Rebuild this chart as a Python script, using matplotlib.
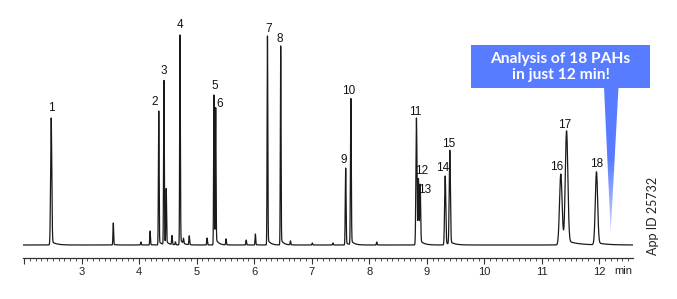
import numpy as np
import matplotlib
matplotlib.use("Agg")
import matplotlib.pyplot as plt
from matplotlib.patches import Polygon, Rectangle
from matplotlib.ticker import MultipleLocator, FixedLocator
from matplotlib.colors import LinearSegmentedColormap

# ---- data ----
peak_labels = [str(i) for i in range(1, 19)]
peak_times = [2.47, 4.34, 4.43, 4.71, 5.30, 5.33, 6.23, 6.46, 7.59, 7.68,
              8.82, 8.855, 8.885, 9.32, 9.40, 11.33, 11.43, 11.95]
peak_heights = [127, 134, 164, 210, 150, 135, 209, 199, 77, 146,
                127, 64, 58, 69, 94, 71, 113, 73]
peak_sigmas = [0.010, 0.006, 0.006, 0.006, 0.006, 0.006, 0.006, 0.006, 0.007, 0.007,
               0.009, 0.008, 0.008, 0.010, 0.010, 0.022, 0.022, 0.020]

minor_times = [3.55, 4.03, 4.19, 4.47, 4.57, 4.63, 4.77, 4.87, 5.18, 5.51,
               5.86, 6.02, 6.63, 7.01, 7.37, 8.13]
minor_heights = [22, 3, 14, 54, 9, 3, 5, 9, 7, 6, 5, 11, 4, 2, 2, 3]
minor_sigma = 0.006

tick_values = [2, 3, 4, 5, 6, 7, 8, 9, 10, 11, 12]
tick_labels = ["", "3", "4", "5", "6", "7", "8", "9", "10", "11", "12"]

callout_text = "Analysis of 18 PAHs\nin just 12 min!"
app_id = "App ID 25732"

# label offsets in pixels (dx, dy) relative to the peak apex
label_offsets = {
    "1": (0, 10), "2": (-4, 9), "3": (0, 10), "4": (0, 10), "5": (1, 9),
    "6": (4, 6), "7": (1, 7), "8": (-1, 7), "9": (-2, 8), "10": (-2, 8),
    "11": (-1, 6), "12": (3, 10), "13": (4, -3), "14": (-3, 8), "15": (-1, 7),
    "16": (-4, 7), "17": (-2, 7), "18": (0, 8),
}

# ---- build trace ----
t = np.linspace(1.98, 12.58, 30000)
y = np.zeros_like(t)


def add_peak(y, t0, h, s):
    y = y + h * np.exp(-0.5 * ((t - t0) / s) ** 2)
    # slight tailing
    tail = np.where(t > t0, np.exp(-(t - t0) / (8 * s)), 0.0)
    y = y + 0.03 * h * tail * (1 - np.exp(-((t - t0) / s) ** 2))
    return y


for t0, h, s in zip(peak_times, peak_heights, peak_sigmas):
    y = add_peak(y, t0, h, s)
for t0, h in zip(minor_times, minor_heights):
    y = add_peak(y, t0, h, minor_sigma)

# ---- figure ----
W, H = 677, 299
fig = plt.figure(figsize=(W / 100, H / 100), dpi=100)
left_px, right_px = 23, 632.7
bottom_px, top_px = 258, 20
ax = fig.add_axes([left_px / W, 1 - bottom_px / H,
                   (right_px - left_px) / W, (bottom_px - top_px) / H])
ax.plot(t, y, color="#1a1a1a", lw=0.9)
ax.set_xlim(1.98, 12.58)
ax.set_ylim(-13, 225)

for sp in ["left", "right", "top"]:
    ax.spines[sp].set_visible(False)
ax.spines["bottom"].set_color("#333333")
ax.spines["bottom"].set_linewidth(0.9)
ax.set_yticks([])
ax.xaxis.set_major_locator(FixedLocator(tick_values))
ax.set_xticklabels(tick_labels, fontsize=8, family="Liberation Sans", color="#222222")
ax.xaxis.set_minor_locator(MultipleLocator(0.1))
ax.tick_params(axis="x", which="major", direction="out", length=4, width=0.8,
               color="#333333", pad=2.5)
ax.tick_params(axis="x", which="minor", direction="out", length=2, width=0.6,
               color="#333333")
ax.annotate("min", xy=(12.42, 0), xycoords=("data", "axes fraction"),
            xytext=(0, -13), textcoords="offset pixels", ha="center", va="center",
            fontsize=8, family="Liberation Sans", color="#222222")

for lab, t0, h in zip(peak_labels, peak_times, peak_heights):
    dx, dy = label_offsets[lab]
    ax.annotate(lab, xy=(t0, h), xytext=(dx, dy), textcoords="offset pixels",
                ha="center", va="center", fontsize=8.5, family="Liberation Sans",
                color="#111111")

# ---- callout overlay (pixel coordinates) ----
ov = fig.add_axes([0, 0, 1, 1], facecolor="none")
ov.set_xlim(0, W)
ov.set_ylim(H, 0)
ov.axis("off")
blue = "#587cff"
ov.add_patch(Rectangle((471, 45), 179, 42.5, facecolor=blue, edgecolor="none"))
tri = Polygon([(604, 87), (618.5, 87), (610.7, 232)], closed=True,
              facecolor="none", edgecolor="none")
ov.add_patch(tri)
grad = np.linspace(0, 1, 200).reshape(-1, 1)
cmap = LinearSegmentedColormap.from_list("fade", [blue, blue, "#c9d4ff"])
im = ov.imshow(grad, extent=(600, 622, 232, 86), cmap=cmap, aspect="auto",
               origin="upper", zorder=2)
im.set_clip_path(tri)
ov.text(560.5, 67, callout_text, ha="center", va="center", color="white",
        fontsize=11.2, fontweight="bold", family="Lato", linespacing=1.2)
ov.text(653, 216, app_id, rotation=90, ha="center", va="center",
        fontsize=9, family="Lato", color="#222222")

fig.savefig("out.png", dpi=100)
